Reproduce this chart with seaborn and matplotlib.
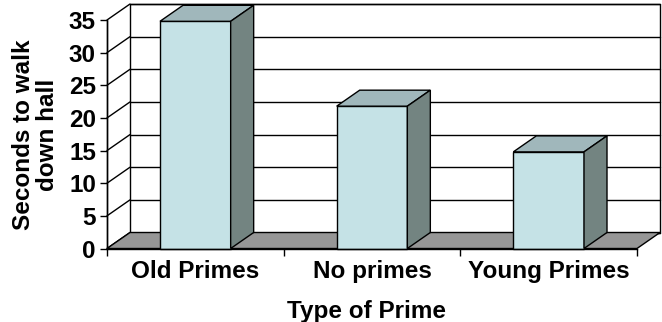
import matplotlib
matplotlib.use("Agg")
import matplotlib.pyplot as plt
import numpy as np
import pandas as pd
import seaborn as sns
from matplotlib.patches import Polygon

# Data
categories = ["Old Primes", "No primes", "Young Primes"]
seconds = [34.8, 21.8, 14.8]
y_ticks = [0, 5, 10, 15, 20, 25, 30, 35]

# Colours of the pseudo-3D columns and the floor
FRONT = "#c5e2e6"
TOP = "#a0b7bb"
SIDE = "#738481"
FLOOR = "#969696"
FS = 17.5

sns.set_theme(style="white")
plt.rcParams["font.family"] = ["Liberation Sans", "DejaVu Sans"]
plt.rcParams["font.weight"] = "bold"

fig = plt.figure(figsize=(6.62, 3.22), dpi=100)
W, H = 662, 322
ax = fig.add_axes([107 / W, (H - 248.5) / H, 530 / W, (248.5 - 20) / H])
ax.patch.set_visible(False)

df = pd.DataFrame({"prime": categories, "seconds": seconds})
sns.barplot(data=df, x="prime", y="seconds", color=FRONT, saturation=1,
            width=0.4, edgecolor="black", linewidth=1.0, ax=ax)
bars = list(ax.patches)

xlo, xhi = -0.5, len(categories) - 0.5
ax.set_xlim(xlo, xhi)
ax.set_ylim(y_ticks[0], y_ticks[-1])
ytop = y_ticks[-1]

# Depth of the box, expressed in data units (23 px right, 16 px up)
fig.canvas.draw()
inv = ax.transData.inverted()
o = ax.transData.transform((0, 0))
ddx, ddy = inv.transform(o + np.array([23.0, 16.0])) - inv.transform(o)

kw = dict(clip_on=False, linewidth=1.0)

# Back wall
ax.add_patch(Polygon([(xlo + ddx, ddy), (xhi + ddx, ddy), (xhi + ddx, ytop + ddy),
                      (xlo + ddx, ytop + ddy)], closed=True, facecolor="white",
                     edgecolor="black", zorder=0.5, **kw))
# Gridlines on the back wall and the connectors on the side wall
for t in y_ticks:
    ax.plot([xlo + ddx, xhi + ddx], [t + ddy, t + ddy], color="black", zorder=0.6, **kw)
    ax.plot([xlo, xlo + ddx], [t, t + ddy], color="black", zorder=0.6, **kw)
ax.plot([xlo, xlo], [0, ytop], color="black", zorder=0.6, **kw)

# Floor
ax.add_patch(Polygon([(xlo, 0), (xhi, 0), (xhi + ddx, ddy), (xlo + ddx, ddy)],
                     closed=True, facecolor=FLOOR, edgecolor="black", zorder=1, **kw))

# Tops and sides of the columns
for p in bars:
    x0, w, h = p.get_x(), p.get_width(), p.get_height()
    p.set_zorder(3)
    p.set_clip_on(False)
    ax.add_patch(Polygon([(x0, h), (x0 + w, h), (x0 + w + ddx, h + ddy), (x0 + ddx, h + ddy)],
                         closed=True, facecolor=TOP, edgecolor="black", zorder=3, **kw))
    ax.add_patch(Polygon([(x0 + w, 0), (x0 + w + ddx, ddy), (x0 + w + ddx, h + ddy), (x0 + w, h)],
                         closed=True, facecolor=SIDE, edgecolor="black", zorder=3, **kw))

# Axes, ticks and labels
sns.despine(ax=ax, top=True, right=True)
for s in ("left", "bottom"):
    ax.spines[s].set_color("black")
    ax.spines[s].set_linewidth(1.0)
    ax.spines[s].set_zorder(4)
ax.grid(False)
ax.set_yticks(y_ticks)
ax.set_xticks(range(len(categories)))
ax.set_xticklabels(categories)
ax.set_xticks(np.arange(xlo, xhi + 0.01, 1.0), minor=True)
ax.tick_params(axis="y", which="major", left=True, direction="out", length=5, width=1,
               color="black", pad=3, labelsize=FS, labelcolor="black")
ax.tick_params(axis="x", which="major", bottom=False, length=0, pad=8,
               labelsize=FS, labelcolor="black")
ax.tick_params(axis="x", which="minor", bottom=True, direction="out", length=5,
               width=1, color="black")
for lab in ax.get_xticklabels() + ax.get_yticklabels():
    lab.set_fontweight("bold")

ax.set_xlabel("Type of Prime", fontsize=FS, fontweight="bold", color="black")
ax.xaxis.set_label_coords(0.49, -0.225)
ax.set_ylabel("Seconds to walk\ndown hall", fontsize=FS, fontweight="bold",
              color="black", linespacing=1.08, multialignment="center")
ax.yaxis.set_label_coords(-0.09, 0.497)

fig.savefig("out.png", dpi=100, facecolor="white")
